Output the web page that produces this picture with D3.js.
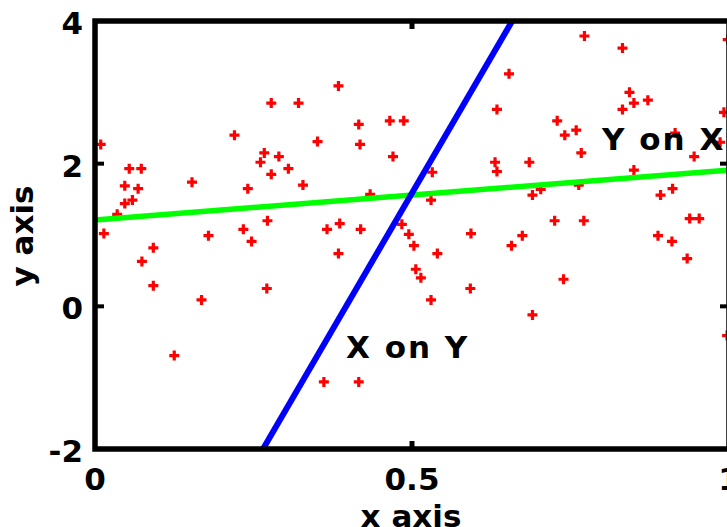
<!DOCTYPE html>
<html>
  <head>
    <title>x axis / y axis</title>
    <meta charset="utf-8">
    <script src='https://d3js.org/d3.v7.min.js'></script>
    <style>
      body { margin: 0; background: #fff; }
      text { font-family: 'DejaVu Sans', sans-serif; font-weight: bold; fill: #000; }
    </style>
  </head>
  <body>
  <div id="svgcontainer"></div>
  <script>
    var width = 727,
        height = 527;

    // scatter points
    var px = [0.009,0.278,0.321,0.220,0.054,0.073,0.047,0.068,0.153,0.267,
              0.290,0.261,0.305,0.278,0.241,0.328,0.047,0.059,0.035,0.272,
              0.234,0.014,0.179,0.092,0.074,0.247,0.092,0.168,0.271,0.125,
              0.384,0.653,0.634,0.416,0.465,0.487,0.351,0.418,0.470,0.631,
              0.634,0.532,0.434,0.530,0.366,0.386,0.419,0.484,0.495,0.593,
              0.384,0.503,0.540,0.657,0.506,0.514,0.592,0.530,0.361,0.416,
              0.772,0.832,0.998,0.843,0.850,0.872,0.832,0.992,0.729,0.759,
              0.741,0.767,0.685,0.915,0.986,0.945,0.850,0.703,0.690,0.763,
              0.892,0.911,0.725,0.771,0.938,0.953,0.674,0.888,0.910,0.934,
              0.739,0.690,0.997];
    var py = [2.27,2.85,2.85,2.40,1.93,1.93,1.69,1.65,1.74,2.15,
              2.10,2.02,1.93,1.85,1.65,1.70,1.44,1.49,1.29,1.20,
              1.08,1.02,0.99,0.82,0.63,0.91,0.29,0.09,0.25,-0.69,
              3.09,3.26,2.76,2.55,2.60,2.60,2.31,2.27,2.10,2.02,
              1.89,1.88,1.57,1.49,1.08,1.16,1.08,1.15,1.01,1.02,
              0.74,0.85,0.74,0.85,0.52,0.40,0.25,0.09,-1.06,-1.06,
              3.79,3.62,3.74,3.00,2.85,2.89,2.76,2.72,2.60,2.47,
              2.40,2.15,2.02,2.43,2.30,2.10,1.91,1.64,1.56,1.70,
              1.56,1.65,1.20,1.20,1.23,1.23,0.99,0.99,0.91,0.67,
              0.38,-0.12,-0.41];

    // regression lines (end points)
    var yOnX = [{x: 0, y: 1.21}, {x: 1, y: 1.91}];
    var xOnY = [{x: 0.265, y: -2}, {x: 0.658, y: 4}];

    var xTicks = [0, 0.5, 1];
    var yTicks = [-2, 0, 2, 4];
    var xLabels = ['0', '0.5', '1'];
    var yLabels = ['-2', '0', '2', '4'];

    var c = d3.select('#svgcontainer')
      .append('svg')
      .attr('width', width)
      .attr('height', height);

    var x = d3.scaleLinear().domain([0, 1]).range([95, 729]);
    var y = d3.scaleLinear().domain([-2, 4]).range([449, 21]);

    var pts = px.map(function(d, i) { return {x: d, y: py[i]}; });

    c.selectAll('path.pt')
      .data(pts)
      .enter()
      .append('path')
      .attr('class', 'pt')
      .attr('d', function(d) {
        var cx = x(d.x), cy = y(d.y);
        return 'M' + (cx - 5) + ',' + cy + 'H' + (cx + 5) + 'M' + cx + ',' + (cy - 5) + 'V' + (cy + 5);
      })
      .attr('stroke', '#ff0000')
      .attr('stroke-width', 3.2)
      .attr('fill', 'none');

    var line = d3.line()
      .x(function(d) { return x(d.x); })
      .y(function(d) { return y(d.y); });

    c.append('path')
      .datum(yOnX)
      .attr('d', line)
      .attr('stroke', '#00ff00')
      .attr('stroke-width', 5.5)
      .attr('fill', 'none');

    c.append('path')
      .datum(xOnY)
      .attr('d', line)
      .attr('stroke', '#0000ff')
      .attr('stroke-width', 6)
      .attr('fill', 'none');

    // frame
    c.append('rect')
      .attr('x', x(0)).attr('y', y(4))
      .attr('width', x(1) - x(0)).attr('height', y(-2) - y(4))
      .attr('fill', 'none')
      .attr('stroke', '#000')
      .attr('stroke-width', 5.5);

    // inward ticks
    c.selectAll('line.xt')
      .data([0.5, 0.5])
      .enter()
      .append('line')
      .attr('x1', function(d) { return x(d); })
      .attr('x2', function(d) { return x(d); })
      .attr('y1', function(d, i) { return i ? y(-2) : y(4); })
      .attr('y2', function(d, i) { return i ? y(-2) - 8 : y(4) + 8; })
      .attr('stroke', '#000').attr('stroke-width', 5);

    c.selectAll('line.yt')
      .data([0, 2, 0, 2])
      .enter()
      .append('line')
      .attr('y1', function(d) { return y(d); })
      .attr('y2', function(d) { return y(d); })
      .attr('x1', function(d, i) { return i < 2 ? x(0) : x(1); })
      .attr('x2', function(d, i) { return i < 2 ? x(0) + 9 : x(1) - 9; })
      .attr('stroke', '#000').attr('stroke-width', 4);

    // tick labels
    c.selectAll('text.xl')
      .data(xTicks)
      .enter()
      .append('text')
      .attr('x', function(d) { return x(d); })
      .attr('y', 490)
      .attr('text-anchor', 'middle')
      .attr('font-size', 31)
      .text(function(d, i) { return xLabels[i]; });

    c.selectAll('text.yl')
      .data(yTicks)
      .enter()
      .append('text')
      .attr('x', 83)
      .attr('y', function(d) { return y(d) + 13; })
      .attr('text-anchor', 'end')
      .attr('font-size', 31)
      .text(function(d, i) { return yLabels[i]; });

    // axis titles
    c.append('text')
      .attr('x', 411).attr('y', 527)
      .attr('text-anchor', 'middle')
      .attr('font-size', 31)
      .text('x axis');

    c.append('text')
      .attr('transform', 'translate(33,236) rotate(-90)')
      .attr('text-anchor', 'middle')
      .attr('font-size', 31)
      .text('y axis');

    // line labels
    c.append('text')
      .attr('x', 346).attr('y', 358)
      .attr('font-size', 31)
      .attr('letter-spacing', 2)
      .text('X on Y');

    c.append('text')
      .attr('x', 602).attr('y', 150)
      .attr('font-size', 31)
      .attr('letter-spacing', 2)
      .text('Y on X');
  </script>
  </body>
</html>
